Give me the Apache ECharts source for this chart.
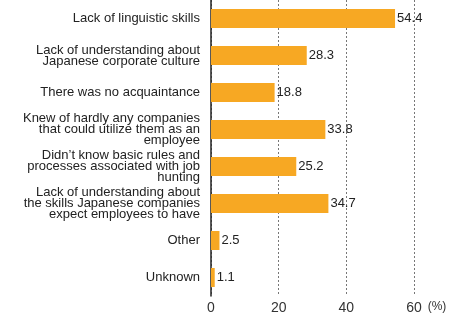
<!DOCTYPE html>
<html>
<head>
<meta charset="utf-8">
<script src="https://cdn.jsdelivr.net/npm/echarts@6/dist/echarts.min.js"></script>
<style>
  html, body { margin: 0; padding: 0; background: #fff; }
  #chart { width: 452px; height: 317px; }
</style>
</head>
<body>
<div id="chart"></div>
<script>
const categories = [
  'Lack of linguistic skills',
  'Lack of understanding about\nJapanese corporate culture',
  'There was no acquaintance',
  'Knew of hardly any companies\nthat could utilize them as an\nemployee',
  'Didn\u2019t know basic rules and\nprocesses associated with job\nhunting',
  'Lack of understanding about\nthe skills Japanese companies\nexpect employees to have',
  'Other',
  'Unknown'
];
const values = [54.4, 28.3, 18.8, 33.8, 25.2, 34.7, 2.5, 1.1];
const xTicks = [0, 20, 40, 60];

const chart = echarts.init(document.getElementById('chart'));

const option = {
  animation: false,
  textStyle: { fontFamily: 'Liberation Sans, Arial, sans-serif' },
  grid: {
    top: -3,
    bottom: 21,
    left: 211,
    right: 38,
  },
  xAxis: {
    type: 'value',
    min: xTicks[0],
    max: xTicks[xTicks.length - 1],
    interval: 20,
    name: '(%)',
    nameLocation: 'end',
    nameGap: 4,
    nameTextStyle: {
      color: '#333',
      fontSize: 12,
      verticalAlign: 'top',
      padding: [5, 0, 0, 0],
    },
    axisLine: { show: false },
    axisTick: { show: false },
    axisLabel: {
      color: '#333',
      fontSize: 14,
      margin: 5,
    },
    splitLine: {
      show: true,
      lineStyle: {
        color: '#777',
        type: [2, 2],
        width: 1,
      },
    },
  },
  yAxis: {
    type: 'category',
    inverse: true,
    data: categories,
    axisLine: { show: true, lineStyle: { color: '#222', width: 1.5 } },
    axisTick: { show: false },
    axisLabel: {
      color: '#222',
      fontSize: 13,
      lineHeight: 11,
      margin: 11,
      align: 'right',
    },
  },
  series: [
    {
      type: 'bar',
      data: values,
      barWidth: 19,
      itemStyle: { color: '#F7A823' },
      label: {
        show: true,
        position: 'right',
        distance: 2,
        color: '#222',
        fontSize: 13,
      },
    },
  ],
};

chart.setOption(option);
</script>
</body>
</html>
